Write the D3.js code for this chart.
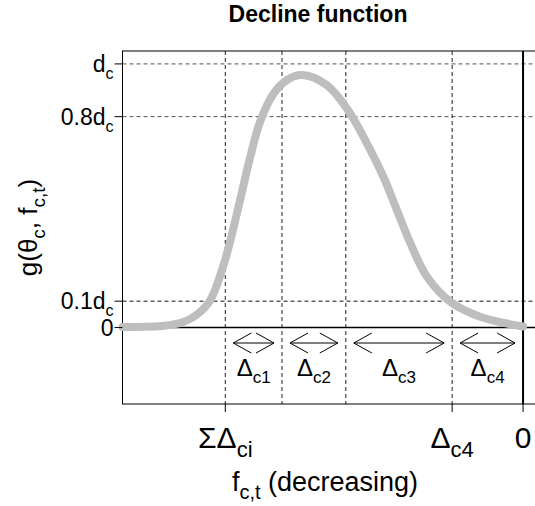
<!DOCTYPE html>
<html>
<head>
<meta charset="utf-8">
<script src="https://cdn.jsdelivr.net/npm/d3@7"></script>
<style>
  body { margin: 0; background: #fff; }
  svg { display: block; font-family: "Liberation Sans", Arial, sans-serif; }
</style>
</head>
<body>
<svg id="chart" width="535" height="506"></svg>
<script>
// curve: f (decreasing to the right) and g
var fVals = [1.130, 1.067, 1.005, 0.960, 0.921, 0.884, 0.842, 0.799, 0.771, 0.742, 0.705, 0.665, 0.623, 0.554, 0.494, 0.441, 0.394, 0.356, 0.318, 0.271, 0.205, 0.121, 0.0]
var gVals = [0.002, 0.003, 0.008, 0.020, 0.048, 0.10, 0.25, 0.48, 0.64, 0.78, 0.885, 0.94, 0.958, 0.92, 0.825, 0.70, 0.572, 0.446, 0.32, 0.193, 0.098, 0.041, 0.004]

// y reference levels (fractions of d_c)
var yTickVals = [0, 0.1, 0.8, 1]
var yTickLabels = [["0", ""], ["0.1d", "c"], ["0.8d", "c"], ["d", "c"]]

// interval widths, from delta c4 (nearest 0) outwards
var deltaNames = ["c4", "c3", "c2", "c1"]
var deltaWidths = [0.20, 0.30, 0.18, 0.16]

// x tick labels
var xTickVals = [0.84, 0.2, 0]
var xTickLabels = [["\u03A3\u0394", "ci"], ["\u0394", "c4"], ["0", ""]]

function drawChart() {
	var svg = d3.select("#chart")
	var pLeft = 122.5, pTop = 51, pBottom = 404, pRight = 545

	var x = d3.scaleLinear().domain([1.13, -0.045]).range([pLeft, 539])
	var y = d3.scaleLinear().domain([-0.29, 1.049]).range([pBottom, pTop])

	// writes text with subscript parts
	function rich(sel, parts, size, subSize) {
		parts.forEach(function(p, i) {
			if (!p) return
			var sub = i % 2 == 1
			sel.append("tspan")
				.attr("font-size", sub ? subSize : size)
				.attr("dy", sub ? size * 0.3 : (i > 0 ? -size * 0.3 : 0))
				.text(p)
		})
		return sel
	}

	// breakpoints
	var breaks = [0]
	deltaWidths.forEach(function(w, i) { breaks.push(breaks[i] + w) })

	var grid = svg.append("g").attr("class", "grid")

	yTickVals.forEach(function(v) {
		if (v == 0) return
		grid.append("line")
			.attr("x1", pLeft).attr("x2", pRight)
			.attr("y1", y(v)).attr("y2", y(v))
			.attr("stroke", v == 0.1 ? "#111" : "#555").attr("stroke-dasharray", "4,3")
	})

	breaks.slice(1).forEach(function(b) {
		grid.append("line")
			.attr("x1", x(b)).attr("x2", x(b))
			.attr("y1", pTop).attr("y2", pBottom)
			.attr("stroke", "#222").attr("stroke-dasharray", "4,3")
	})

	// zero line and f = 0 line
	svg.append("line")
		.attr("x1", pLeft).attr("x2", pRight)
		.attr("y1", y(0)).attr("y2", y(0))
		.attr("stroke", "#000").attr("stroke-width", 1.5)
	svg.append("line")
		.attr("x1", x(0)).attr("x2", x(0))
		.attr("y1", pTop).attr("y2", pBottom)
		.attr("stroke", "#000").attr("stroke-width", 2)

	// box
	svg.append("rect")
		.attr("x", pLeft).attr("y", pTop)
		.attr("width", pRight - pLeft).attr("height", pBottom - pTop)
		.attr("fill", "none").attr("stroke", "#000").attr("stroke-width", 1)

	// curve
	var pts = fVals.map(function(f, i) { return [f, gVals[i]] })
	var line = d3.line()
		.x(function(d) { return x(d[0]) })
		.y(function(d) { return y(d[1]) })
		.curve(d3.curveCatmullRom.alpha(0.5))

	svg.append("path")
		.attr("d", line(pts))
		.attr("fill", "none")
		.attr("stroke", "#bebebe")
		.attr("stroke-width", 8)
		.attr("stroke-linecap", "round")

	// y ticks
	yTickVals.forEach(function(v, i) {
		svg.append("line")
			.attr("x1", pLeft - 8).attr("x2", pLeft)
			.attr("y1", y(v)).attr("y2", y(v))
			.attr("stroke", "#000")
		var t = svg.append("text")
			.attr("x", pLeft - 9).attr("y", y(v) + 8)
			.attr("text-anchor", "end")
		rich(t, yTickLabels[i], 23, 16)
	})

	// x ticks
	xTickVals.forEach(function(v, i) {
		svg.append("line")
			.attr("x1", x(v)).attr("x2", x(v))
			.attr("y1", pBottom).attr("y2", pBottom + 8)
			.attr("stroke", "#000")
		var t = svg.append("text")
			.attr("x", x(v)).attr("y", 448)
			.attr("text-anchor", "middle")
		rich(t, xTickLabels[i], 30, 22)
	})

	// interval arrows and labels
	var arrowY = 343, inset = 8, head = 18, spread = 10
	deltaNames.forEach(function(name, i) {
		var xa = x(breaks[i + 1]) + inset
		var xb = x(breaks[i]) - inset
		var a = svg.append("g").attr("stroke", "#000").attr("fill", "none")
		a.append("line").attr("x1", xa).attr("x2", xb).attr("y1", arrowY).attr("y2", arrowY)
		a.append("path").attr("d", "M" + (xa + head) + "," + (arrowY - spread) + "L" + xa + "," + arrowY + "L" + (xa + head) + "," + (arrowY + spread))
		a.append("path").attr("d", "M" + (xb - head) + "," + (arrowY - spread) + "L" + xb + "," + arrowY + "L" + (xb - head) + "," + (arrowY + spread))

		var t = svg.append("text")
			.attr("x", (x(breaks[i]) + x(breaks[i + 1])) / 2)
			.attr("y", 376)
			.attr("text-anchor", "middle")
		rich(t, ["\u0394", name], 24, 17)
	})

	// titles
	svg.append("text")
		.attr("x", 318).attr("y", 22)
		.attr("text-anchor", "middle")
		.attr("font-weight", "bold")
		.attr("font-size", 23)
		.text("Decline function")

	var xl = svg.append("text")
		.attr("x", 325).attr("y", 491)
		.attr("text-anchor", "middle")
	rich(xl, ["f", "c,t", " (decreasing)"], 27, 20)

	var yl = svg.append("text")
		.attr("transform", "translate(37," + ((pTop + pBottom) / 2) + ") rotate(-90)")
		.attr("text-anchor", "middle")
	rich(yl, ["g(\u03B8", "c", ", f", "c,t", ")"], 26, 19)
}

drawChart()
</script>
</body>
</html>
